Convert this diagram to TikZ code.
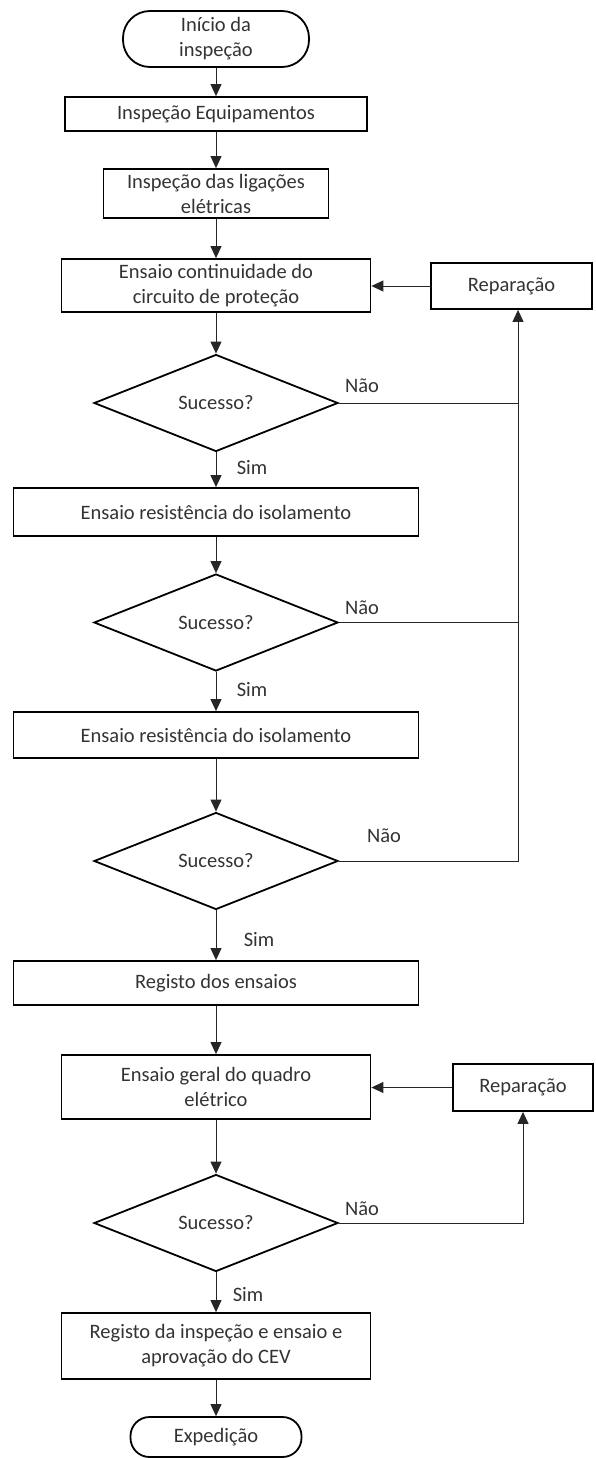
\documentclass[tikz,border=0pt]{standalone}
\usepackage{fontspec}
\setmainfont{Carlito}
\usetikzlibrary{arrows.meta,positioning,shapes.geometric,calc}

\begin{document}
\begin{tikzpicture}[
  x=1pt, y=-1pt,
  font=\fontsize{20.5}{25}\selectfont,
  box/.style={draw=black, line width=1.8pt, align=center, inner sep=0pt,
              text=black!80},
  term/.style={box},
  dec/.style={draw=black, diamond, line width=1.8pt, inner sep=0pt,
              minimum width=244pt, minimum height=97pt, text=black!80},
  lbl/.style={inner sep=0pt, text=black!80},
  flow/.style={-{Triangle[length=12pt,width=11pt]}, line width=1pt, draw=black!85},
  link/.style={line width=1pt, draw=black!85}
]
\useasboundingbox (0,0) rectangle (596,1458);
\node[term, minimum width=186pt, minimum height=56pt, rounded corners=27pt] (start) at (216,39) {Início da\\inspeção};
\node[box, minimum width=302pt, minimum height=34pt] (equip) at (216,114) {Inspeção Equipamentos};
\node[box, minimum width=225pt, minimum height=49pt] (lig) at (216,193.5) {Inspeção das ligações\\elétricas};
\node[box, minimum width=309pt, minimum height=53pt] (cont) at (216,285.5) {Ensaio continuidade do\\circuito de proteção};
\node[box, minimum width=161pt, minimum height=46pt] (rep1) at (511.5,286) {Reparação};
\node[dec] (dec1) at (216,403) {Sucesso?};
\node[box, minimum width=405pt, minimum height=48pt] (iso1) at (216,512) {Ensaio resistência do isolamento};
\node[dec] (dec2) at (216,622.5) {Sucesso?};
\node[box, minimum width=405pt, minimum height=46pt] (iso2) at (216,735) {Ensaio resistência do isolamento};
\node[dec] (dec3) at (216,861) {Sucesso?};
\node[box, minimum width=405pt, minimum height=44pt] (reg) at (216,983) {Registo dos ensaios};
\node[box, minimum width=309pt, minimum height=64pt] (geral) at (216,1087) {Ensaio geral do quadro\\elétrico};
\node[box, minimum width=140pt, minimum height=47pt] (rep2) at (523,1087.5) {Reparação};
\node[dec] (dec4) at (216,1223) {Sucesso?};
\node[box, minimum width=309pt, minimum height=66pt] (fin) at (216,1346) {Registo da inspeção e ensaio e\\aprovação do CEV};
\node[term, minimum width=171pt, minimum height=40pt, rounded corners=19pt] (exp) at (216,1437) {Expedição};

\node[lbl] (nao1) at (362,386) {Não};
\node[lbl] (sim1) at (252,468) {Sim};
\node[lbl] (nao2) at (362,608) {Não};
\node[lbl] (sim2) at (252,690) {Sim};
\node[lbl] (nao3) at (384,836) {Não};
\node[lbl] (sim3) at (259,940) {Sim};
\node[lbl] (nao4) at (362,1209) {Não};
\node[lbl] (sim4) at (248,1295) {Sim};

\coordinate (bus) at (518,0);
\draw[flow] (start)--(equip);
\draw[flow] (equip)--(lig);
\draw[flow] (lig)--(cont);
\draw[flow] (cont)--(dec1);
\draw[flow] (dec1)--(iso1);
\draw[flow] (iso1)--(dec2);
\draw[flow] (dec2)--(iso2);
\draw[flow] (iso2)--(dec3);
\draw[flow] (dec3)--(reg);
\draw[flow] (reg)--(geral);
\draw[flow] (geral)--(dec4);
\draw[flow] (dec4)--(fin);
\draw[flow] (fin)--(exp);
\draw[flow] (rep1.west) -- (rep1.west -| cont.east);
\draw[link] (dec1.east) -- (dec1.east -| bus);
\draw[link] (dec2.east) -- (dec2.east -| bus);
\draw[flow] (dec3.east) -| (bus |- rep1.south);
\draw[flow] (rep2.west) -- (rep2.west -| geral.east);
\draw[flow] (dec4.east) -| (rep2.south);
\end{tikzpicture}
\end{document}
